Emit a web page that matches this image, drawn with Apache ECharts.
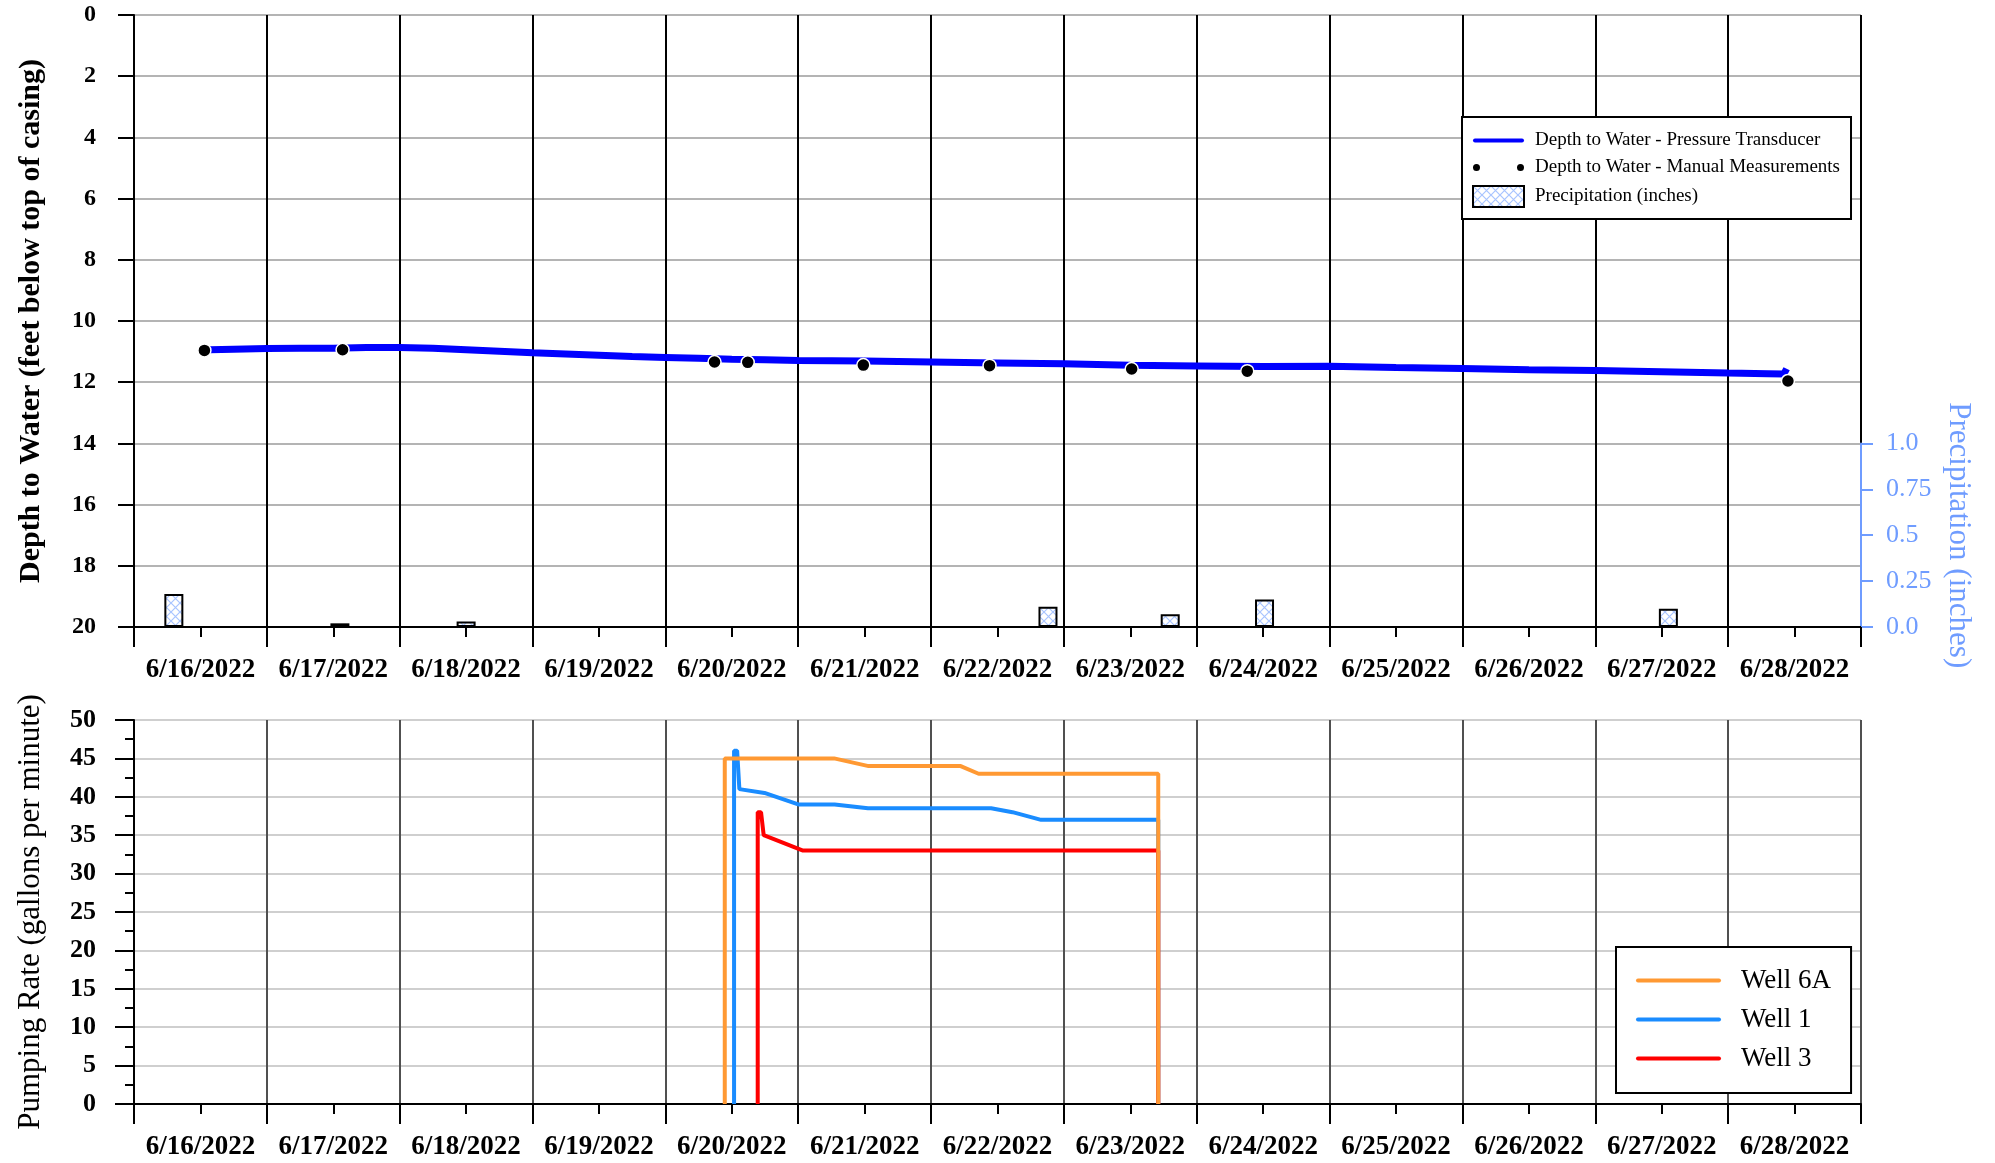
<!DOCTYPE html>
<html>
<head>
<meta charset="utf-8">
<script src="https://cdn.jsdelivr.net/npm/echarts/dist/echarts.min.js"></script>
<style>
  html, body { margin: 0; padding: 0; background: #fff; }
  #chart { width: 1995px; height: 1163px; }
</style>
</head>
<body>
<div id="chart"></div>
<script>
// Day labels, centred at noon of each day (x = days since 6/16/2022 00:00)
const dayLabels = ['6/16/2022', '6/17/2022', '6/18/2022', '6/19/2022', '6/20/2022', '6/21/2022',
  '6/22/2022', '6/23/2022', '6/24/2022', '6/25/2022', '6/26/2022', '6/27/2022', '6/28/2022'];
const precipTickLabels = ['0.0', '0.25', '0.5', '0.75', '1.0'];

// Depth to water from the pressure transducer [day, feet below top of casing]
const transducerDepth = [
  [0.57, 10.94], [0.75, 10.92], [1.0, 10.90], [1.25, 10.89], [1.5, 10.89], [1.75, 10.87],
  [2.0, 10.87], [2.25, 10.89], [2.5, 10.94], [2.75, 10.99], [3.0, 11.04], [3.25, 11.08],
  [3.5, 11.12], [3.75, 11.16], [4.0, 11.19], [4.25, 11.22], [4.5, 11.25], [4.75, 11.27],
  [5.0, 11.29], [5.5, 11.31], [6.0, 11.34], [6.5, 11.37], [7.0, 11.40], [7.5, 11.45],
  [8.0, 11.47], [8.5, 11.49], [9.0, 11.48], [9.5, 11.52], [10.0, 11.55], [10.5, 11.59],
  [11.0, 11.62], [11.5, 11.66], [12.0, 11.70], [12.3, 11.72], [12.42, 11.73], [12.44, 11.56]
];

// Manual depth measurements [day, feet]
const manualDepth = [
  [0.53, 10.96], [1.57, 10.94], [4.37, 11.34], [4.62, 11.35], [5.49, 11.44],
  [6.44, 11.46], [7.51, 11.57], [8.38, 11.64], [12.45, 11.96]
];

// Precipitation [day, inches]
const precipitation = [
  [0.30, 0.18], [1.55, 0.02], [2.50, 0.03], [6.88, 0.11], [7.80, 0.07], [8.51, 0.15], [11.55, 0.10]
];

// Pumping rates [day, gallons per minute]
const well6A = [
  [4.447, 0], [4.447, 45], [5.27, 45], [5.53, 44], [6.223, 44], [6.358, 43], [7.71, 43], [7.71, 0]
];
const well1 = [
  [4.517, 0], [4.517, 46], [4.54, 46], [4.557, 41], [4.746, 40.5], [5.0, 39], [5.274, 39],
  [5.525, 38.5], [6.452, 38.5], [6.613, 38], [6.828, 37], [7.71, 37], [7.71, 0]
];
const well3 = [
  [4.695, 0], [4.695, 38], [4.72, 38], [4.74, 35], [5.036, 33], [7.71, 33], [7.71, 0]
];

const FONT = 'Liberation Serif';
const PRECIP_BLUE = '#6f9cff';

// Legend glyphs: short rounded strokes for the lines, a pair of dots for the manual readings
const SHORT_STROKE = 'path://M2,0H49A2,2,0,0,1,49,4H2A2,2,0,0,1,2,0Z';
const LONG_STROKE = 'path://M2,0H83A2,2,0,0,1,83,4H2A2,2,0,0,1,2,0Z';
const TWO_DOTS = 'path://M7,3.5A3.5,3.5,0,1,1,0,3.5A3.5,3.5,0,1,1,7,3.5Z M51,3.5A3.5,3.5,0,1,1,44,3.5A3.5,3.5,0,1,1,51,3.5Z';

// Light-blue cross-hatch fill for the precipitation bars
function crossHatch() {
  const c = document.createElement('canvas');
  c.width = 9; c.height = 9;
  const g = c.getContext('2d');
  g.fillStyle = '#ffffff';
  g.fillRect(0, 0, 9, 9);
  g.strokeStyle = '#a8c4ff';
  g.lineWidth = 1.2;
  g.beginPath();
  g.moveTo(0, 0); g.lineTo(9, 9);
  g.moveTo(9, 0); g.lineTo(0, 9);
  g.stroke();
  return c;
}
const hatchFill = { image: crossHatch(), repeat: 'repeat' };

function noonLabel(v) {
  const d = Math.floor(v + 1e-9);
  return Math.abs(v - d - 0.5) < 1e-6 ? (dayLabels[d] || '') : '';
}

// Axis pair per panel: one carries the midnight grid and ticks, the other the noon labels
function dayGridAxis(gridIndex, gridColor) {
  return {
    gridIndex, type: 'value', min: 0, max: 13, interval: 1, position: 'bottom',
    axisLine: { show: true, onZero: false, lineStyle: { color: '#000', width: 2 } },
    axisTick: { show: true, length: 20, lineStyle: { color: '#000', width: 2 } },
    minorTick: { show: true, splitNumber: 2, length: 10, lineStyle: { color: '#000', width: 2 } },
    minorSplitLine: { show: false },
    axisLabel: { show: false },
    splitLine: { show: true, lineStyle: { color: gridColor, width: 2 } }
  };
}
function dayLabelAxis(gridIndex) {
  return {
    gridIndex, type: 'value', min: 0, max: 13, interval: 0.5, position: 'bottom',
    axisLine: { show: false, onZero: false }, axisTick: { show: false }, splitLine: { show: false },
    axisLabel: { margin: 30, formatter: noonLabel, fontFamily: FONT, fontWeight: 'bold', fontSize: 27, color: '#000' }
  };
}

const chart = echarts.init(document.getElementById('chart'), null, { renderer: 'canvas' });
chart.setOption({
  animation: false,
  backgroundColor: '#fff',
  textStyle: { fontFamily: FONT },
  grid: [
    { left: 134, top: 15, width: 1727, height: 612, outerBoundsMode: 'none' },
    { left: 134, top: 443.4, width: 1727, height: 183.6, outerBoundsMode: 'none' },
    { left: 134, top: 720, width: 1727, height: 384, outerBoundsMode: 'none' }
  ],
  xAxis: [
    dayGridAxis(0, '#000'),
    dayLabelAxis(0),
    { gridIndex: 1, type: 'value', min: 0, max: 13, show: false },
    dayGridAxis(2, '#505050'),
    dayLabelAxis(2)
  ],
  yAxis: [
    {
      gridIndex: 0, type: 'value', inverse: true, min: 0, max: 20, interval: 2,
      axisLine: { show: true, onZero: false, lineStyle: { color: '#000', width: 2 } },
      axisTick: { show: true, length: 16, lineStyle: { color: '#000', width: 2 } },
      axisLabel: { margin: 38, fontFamily: FONT, fontWeight: 'bold', fontSize: 24, color: '#000' },
      splitLine: { show: true, lineStyle: { color: '#b4b4b4', width: 2 } },
      name: 'Depth to Water (feet below top of casing)', nameLocation: 'middle', nameRotate: 90, nameGap: 88,
      nameTextStyle: { fontFamily: FONT, fontWeight: 'bold', fontSize: 30, color: '#000' }
    },
    {
      gridIndex: 1, type: 'value', position: 'right', min: 0, max: 1, interval: 0.25,
      axisLine: { show: true, onZero: false, lineStyle: { color: PRECIP_BLUE, width: 2 } },
      axisTick: { show: true, length: 12, lineStyle: { color: PRECIP_BLUE, width: 2 } },
      axisLabel: { margin: 25, fontFamily: FONT, fontSize: 26, color: PRECIP_BLUE,
        formatter: v => precipTickLabels[Math.round(v / 0.25)] },
      splitLine: { show: false },
      name: 'Precipitation (inches)', nameLocation: 'middle', nameRotate: -90, nameGap: 80,
      nameTextStyle: { fontFamily: FONT, fontSize: 31, color: PRECIP_BLUE }
    },
    {
      gridIndex: 2, type: 'value', min: 0, max: 50, interval: 5,
      axisLine: { show: true, onZero: false, lineStyle: { color: '#000', width: 2 } },
      axisTick: { show: true, length: 19, lineStyle: { color: '#000', width: 2 } },
      minorTick: { show: true, splitNumber: 2, length: 9, lineStyle: { color: '#000', width: 2 } },
      axisLabel: { margin: 38, fontFamily: FONT, fontWeight: 'bold', fontSize: 26, color: '#000' },
      splitLine: { show: true, lineStyle: { color: '#cfcfcf', width: 2 } },
      name: 'Pumping Rate (gallons per minute)', nameLocation: 'middle', nameRotate: 90, nameGap: 88,
      nameTextStyle: { fontFamily: FONT, fontSize: 31, color: '#000' }
    }
  ],
  legend: [
    {
      orient: 'vertical', left: 1462, top: 117,
      data: [
        { name: 'Depth to Water - Pressure Transducer', icon: SHORT_STROKE },
        { name: 'Depth to Water - Manual Measurements', icon: TWO_DOTS, itemStyle: { borderWidth: 0 } },
        { name: 'Precipitation (inches)', icon: 'rect' }
      ],
      itemWidth: 51, itemHeight: 21, itemGap: 8,
      padding: [14, 11, 11, 10],
      borderColor: '#000', borderWidth: 2, backgroundColor: '#fff',
      selectedMode: false,
      textStyle: { fontFamily: FONT, fontSize: 19, color: '#000', padding: [0, 0, 0, 6] }
    },
    {
      orient: 'vertical', left: 1616, top: 947,
      data: [
        { name: 'Well 6A', icon: LONG_STROKE },
        { name: 'Well 1', icon: LONG_STROKE },
        { name: 'Well 3', icon: LONG_STROKE }
      ],
      itemWidth: 85, itemHeight: 27, itemGap: 12,
      padding: [20, 20, 21, 20],
      borderColor: '#000', borderWidth: 2, backgroundColor: '#fff',
      selectedMode: false,
      textStyle: { fontFamily: FONT, fontSize: 27, color: '#000', padding: [0, 0, 0, 15] }
    }
  ],
  series: [
    {
      name: 'Depth to Water - Pressure Transducer', type: 'line', xAxisIndex: 0, yAxisIndex: 0,
      data: transducerDepth, symbol: 'none', z: 3,
      lineStyle: { color: '#0000ff', width: 7 }, itemStyle: { color: '#0000ff' }
    },
    {
      name: 'Depth to Water - Manual Measurements', type: 'scatter', xAxisIndex: 0, yAxisIndex: 0,
      data: manualDepth, symbol: 'circle', symbolSize: 13, z: 4,
      itemStyle: { color: '#000', borderColor: '#fff', borderWidth: 1.5, opacity: 1 }
    },
    {
      name: 'Precipitation (inches)', type: 'bar', xAxisIndex: 2, yAxisIndex: 1,
      data: precipitation, barWidth: 19, z: 2,
      itemStyle: { color: hatchFill, borderColor: '#000', borderWidth: 2 }
    },
    {
      name: 'Well 1', type: 'line', xAxisIndex: 3, yAxisIndex: 2, data: well1, symbol: 'none', z: 3,
      lineStyle: { color: '#1a8cff', width: 4 }, itemStyle: { color: '#1a8cff' }
    },
    {
      name: 'Well 3', type: 'line', xAxisIndex: 3, yAxisIndex: 2, data: well3, symbol: 'none', z: 3,
      lineStyle: { color: '#ff0000', width: 4 }, itemStyle: { color: '#ff0000' }
    },
    {
      name: 'Well 6A', type: 'line', xAxisIndex: 3, yAxisIndex: 2, data: well6A, symbol: 'none', z: 4,
      lineStyle: { color: '#ff9933', width: 4 }, itemStyle: { color: '#ff9933' }
    }
  ]
});
</script>
</body>
</html>
